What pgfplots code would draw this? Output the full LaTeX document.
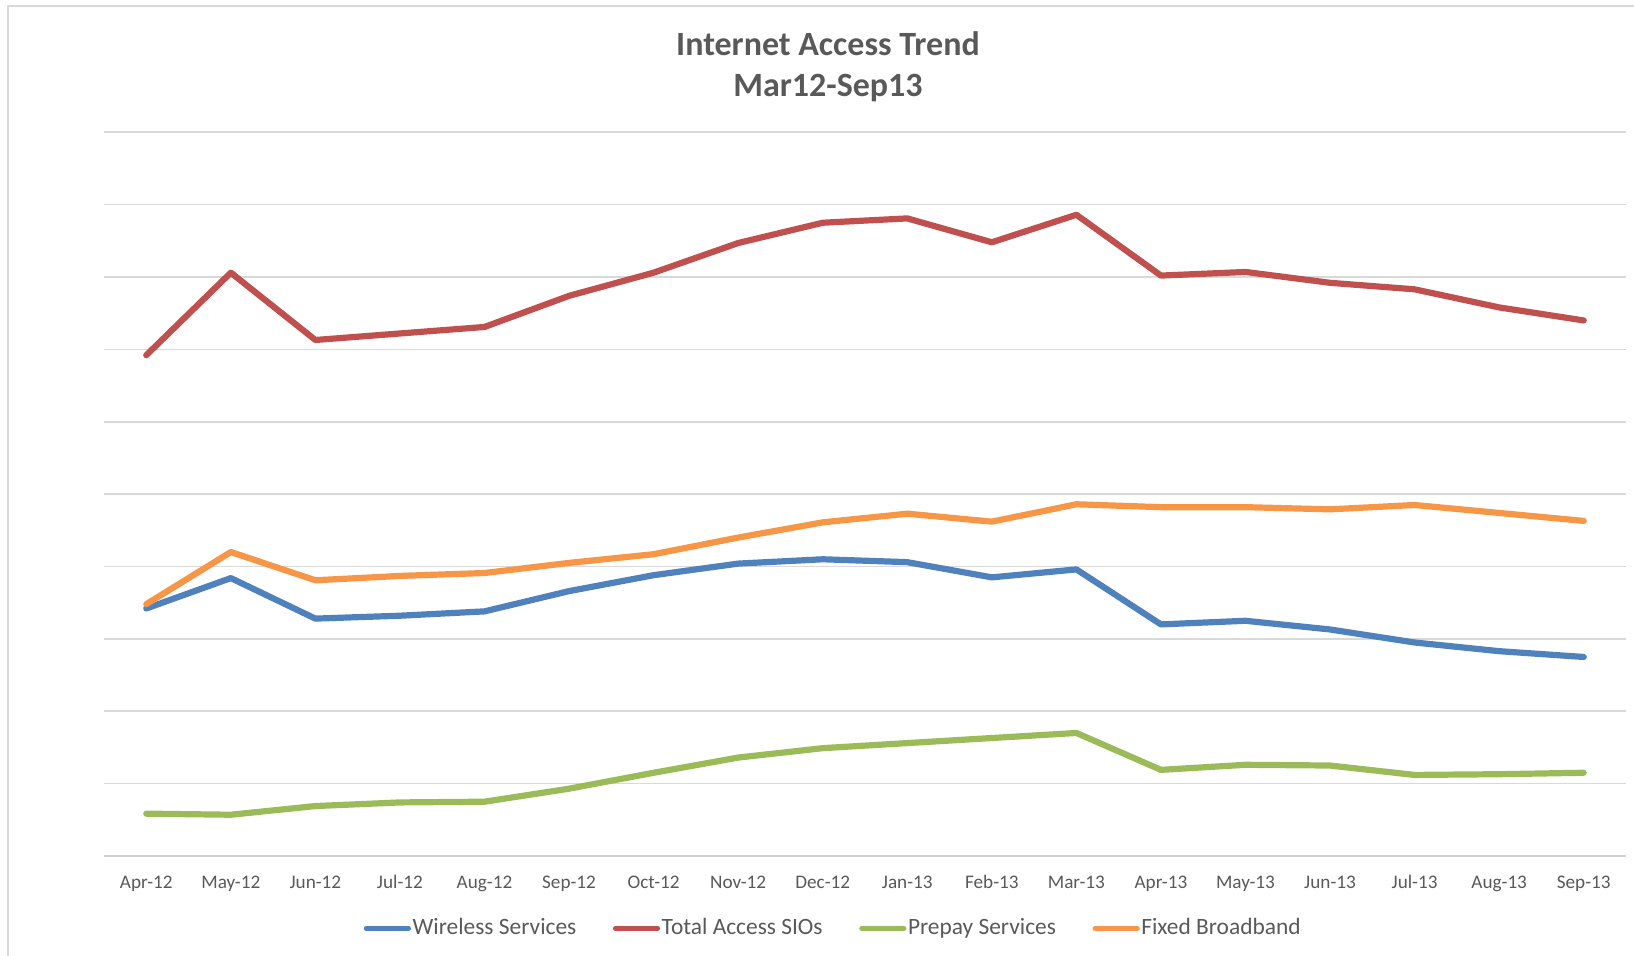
\documentclass[border=0pt]{standalone}
\usepackage{pgfplots}
\pgfplotsset{compat=1.18}
\usepackage{fontspec}
\setmainfont{Carlito}
\definecolor{cblue}{HTML}{4F81BD}
\definecolor{cred}{HTML}{C0504D}
\definecolor{cgreen}{HTML}{9BBB59}
\definecolor{corange}{HTML}{F79646}
\definecolor{gridc}{HTML}{D9D9D9}
\definecolor{axisc}{HTML}{D0D0D0}
\definecolor{txt}{HTML}{595959}
\begin{document}
\begin{tikzpicture}
\useasboundingbox (0,0) rectangle (817pt,478pt);
\draw[gridc, line width=1pt] (4.2pt,0) -- (4.2pt,475pt) -- (817pt,475pt);
\node[anchor=base, font=\fontsize{17}{20}\selectfont\bfseries, text=txt] at (414pt,450pt) {Internet Access Trend};
\node[anchor=base, font=\fontsize{17}{20}\selectfont\bfseries, text=txt] at (414pt,429.5pt) {Mar12-Sep13};
\begin{axis}[
  at={(52pt,50pt)}, anchor=south west,
  scale only axis, width=761pt, height=361.85pt,
  xmin=-0.5, xmax=17.5, ymin=0, ymax=10,
  axis x line*=bottom, axis y line*=left,
  y axis line style={draw=none},
  x axis line style={axisc, line width=1.2pt},
  ytick={1,2,...,10}, yticklabels={},
  ymajorgrids, major grid style={gridc, line width=0.8pt},
  xtick={0,1,...,17},
  xticklabels={Apr-12,May-12,Jun-12,Jul-12,Aug-12,Sep-12,Oct-12,Nov-12,Dec-12,Jan-13,Feb-13,Mar-13,Apr-13,May-13,Jun-13,Jul-13,Aug-13,Sep-13},
  xticklabel style={anchor=base, yshift=-16.5pt, font=\fontsize{9.6}{11}\selectfont, text=txt},
  major tick length=0pt,
  tick style={draw=none},
  legend columns=4,
  legend style={at={(0.479,-0.1),}, anchor=center, draw=none, fill=none,
    font=\fontsize{11.7}{14}\selectfont, text=txt,
    /tikz/every even column/.append style={column sep=17.5pt},
    /tikz/every odd column/.append style={column sep=0pt},
    nodes={inner sep=0.8pt}},
  legend image code/.code={\draw[#1, line width=2.6pt] (0pt,0pt) -- (21pt,0pt);},
  every axis plot/.append style={line width=3.1pt, line join=round, line cap=round},
]
\addplot[cblue] coordinates {(0,3.42)(1,3.84)(2,3.28)(3,3.32)(4,3.38)(5,3.66)(6,3.88)(7,4.04)(8,4.10)(9,4.06)(10,3.85)(11,3.96)(12,3.20)(13,3.25)(14,3.13)(15,2.95)(16,2.83)(17,2.75)};
\addlegendentry{Wireless Services}
\addplot[cred] coordinates {(0,6.92)(1,8.06)(2,7.13)(3,7.22)(4,7.31)(5,7.74)(6,8.06)(7,8.47)(8,8.75)(9,8.81)(10,8.48)(11,8.86)(12,8.02)(13,8.07)(14,7.92)(15,7.83)(16,7.58)(17,7.40)};
\addlegendentry{Total Access SIOs}
\addplot[cgreen] coordinates {(0,0.585)(1,0.57)(2,0.69)(3,0.74)(4,0.75)(5,0.93)(6,1.15)(7,1.36)(8,1.49)(9,1.56)(10,1.63)(11,1.70)(12,1.19)(13,1.26)(14,1.25)(15,1.12)(16,1.13)(17,1.15)};
\addlegendentry{Prepay Services}
\addplot[corange] coordinates {(0,3.48)(1,4.20)(2,3.81)(3,3.87)(4,3.91)(5,4.05)(6,4.17)(7,4.40)(8,4.61)(9,4.73)(10,4.62)(11,4.86)(12,4.82)(13,4.82)(14,4.79)(15,4.85)(16,4.74)(17,4.63)};
\addlegendentry{Fixed Broadband}
\end{axis}
\end{tikzpicture}
\end{document}
